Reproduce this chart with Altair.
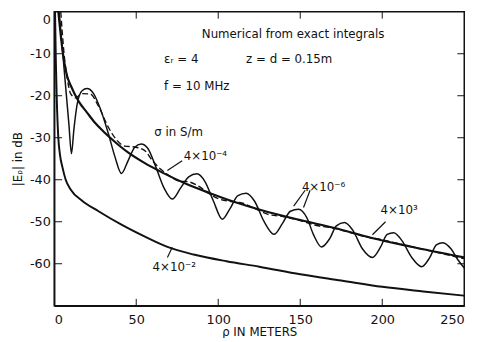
import altair as alt
import pandas as pd

# sigma = 4e-2 (lowest smooth curve)
rho_a = [0.5, 1.0, 1.5, 2.5, 3.5, 5, 7, 10, 17, 27, 41, 55, 69, 85, 105, 125, 150, 175, 200, 225, 250]
db_a = [0, -12, -20, -30, -34, -37, -40, -42.3, -45, -47.5, -50.7, -53.5, -56, -57.8, -59.4, -60.7, -62.5, -64, -65.5, -66.6, -67.6]

# sigma = 4e3 (upper smooth curve)
rho_b = [2.5, 5, 8, 10, 15, 20, 25, 30, 35, 45, 55, 66, 80, 95, 110, 126, 150, 171, 193, 217, 250]
db_b = [0, -9, -15.5, -17.5, -21.4, -24, -26.5, -28.5, -30.3, -33.5, -36, -38.3, -40.9, -43.2, -45.3, -47.2, -49.6, -51.5, -53.8, -55.9, -58.5]

# sigma = 4e-6 (strongly oscillating curve)
rho_c = [3, 5, 7, 9, 10.5, 12, 14, 17, 20, 24, 28, 33, 37, 41, 45, 49, 53, 57, 62, 67, 72, 77, 82, 87, 92, 97,
         102.5, 107, 112, 117, 122, 128, 134, 139, 144, 149, 154, 158, 163, 168, 172, 177, 182, 188, 194, 199,
         203, 207, 212, 218, 224, 229, 233, 237, 242, 246, 250]
db_c = [0, -9, -18, -27, -33.8, -28, -22, -18.8, -18.3, -19.5, -23, -29, -34.5, -38.5, -35.5, -32.3, -31.5, -32.5,
        -37, -42, -44.6, -42, -39.3, -38.6, -40.5, -45, -49.4, -47, -43.8, -43.2, -45, -50, -53, -50.5, -47.5, -47,
        -49, -53, -56, -54, -51, -50.2, -52, -56.5, -58.5, -56, -53, -52.6, -54.5, -58.5, -60.7, -58.5, -55.5, -55,
        -56.5, -59, -61]

# sigma = 4e-4 (dashed, weakly oscillating)
rho_d = [4, 6, 8, 10, 13, 17, 22, 27, 33, 38, 43, 49, 55, 60, 65, 70, 76, 82, 88, 94, 100, 108, 115, 122, 130,
         140, 150, 160, 170, 180, 190, 200, 215, 230, 250]
db_d = [0, -10, -16, -19.5, -20.5, -19.5, -19.6, -22.5, -27.5, -30.5, -32, -32.2, -33, -35.5, -37.5, -39, -40.3,
        -40.5, -41.5, -43.2, -44.5, -45.2, -45.6, -46.8, -48.2, -48.8, -49.7, -50.9, -51.5, -52.5, -53.6, -54.3,
        -55.7, -57, -58.8]

# annotations
ann_text = ["Numerical from exact integrals", "\u03b5\u1d63 = 4", "z = d = 0.15m", "f = 10 MHz",
            "\u03c3 in S/m", "4\u00d710\u207b\u2074", "4\u00d710\u207b\u2076", "4\u00d710\u00b3", "4\u00d710\u207b\u00b2"]
ann_rho = [90, 67, 117, 67, 61, 79, 151, 199, 60]
ann_db = [-5.2, -11.2, -11.2, -17.6, -28.6, -34.4, -41.7, -47.3, -60.9]

# arrows (start -> end)
arr_x1 = [78, 153, 156, 202, 69]
arr_y1 = [-35.5, -42.5, -42.5, -50, -58.5]
arr_x2 = [69, 146, 152, 194, 72]
arr_y2 = [-37.8, -46.3, -46.6, -53.1, -56.1]

x_ticks = [50, 100, 150, 200]
y_ticks = [-10, -20, -30, -40, -50, -60]

W, H = 417, 299
FONT = "DejaVu Sans"
INK = "#111111"

xs = alt.Scale(domain=[0, 250], nice=False, zero=False)
ys = alt.Scale(domain=[-70, 0], nice=False, zero=False)

xaxis = alt.Axis(values=[0, 50, 100, 150, 200, 250], tickSize=0, grid=False, labelFont=FONT, labelFontSize=13,
                 labelColor=INK, labelPadding=8, title="\u03c1 IN METERS", titleFont=FONT, titleFontSize=12,
                 titleFontWeight="normal", titleColor=INK, titlePadding=0, domainColor=INK, domainWidth=1.5)
yaxis = alt.Axis(values=[0, -10, -20, -30, -40, -50, -60], tickSize=0, grid=False, labelFont=FONT,
                 labelFontSize=13, labelColor=INK, labelPadding=4, labelFlush=True, labelFlushOffset=-2,
                 labelExpr="datum.value == 0 ? '0' : '-' + abs(datum.value)",
                 title="|E\u1d68| in dB", titleFont=FONT, titleFontSize=12, titleFontWeight="normal",
                 titleColor=INK, titlePadding=5, domainColor=INK, domainWidth=1.5)


def curve(rhos, dbs, width, dash=None):
    df = pd.DataFrame({"rho": rhos, "db": dbs})
    kw = dict(interpolate="monotone", color=INK, strokeWidth=width, clip=True)
    if dash:
        kw["strokeDash"] = dash
    return alt.Chart(df).mark_line(**kw).encode(
        x=alt.X("rho:Q", scale=xs, axis=xaxis),
        y=alt.Y("db:Q", scale=ys, axis=yaxis),
    )


la = curve(rho_a, db_a, 2.0)
lb = curve(rho_b, db_b, 2.2)
lc = curve(rho_c, db_c, 1.5)
ld = curve(rho_d, db_d, 1.4, dash=[6, 3])

xt = pd.DataFrame({"t": x_ticks})
yt = pd.DataFrame({"t": y_ticks})
tick_bottom = alt.Chart(xt).mark_rule(color=INK, strokeWidth=1).encode(
    x=alt.X("t:Q", scale=xs, axis=xaxis), y=alt.value(H), y2=alt.value(H - 7))
tick_top = alt.Chart(xt).mark_rule(color=INK, strokeWidth=1).encode(
    x=alt.X("t:Q", scale=xs, axis=xaxis), y=alt.value(0), y2=alt.value(7))
tick_left = alt.Chart(yt).mark_rule(color=INK, strokeWidth=1).encode(
    y=alt.Y("t:Q", scale=ys, axis=yaxis), x=alt.value(0), x2=alt.value(8))
tick_right = alt.Chart(yt).mark_rule(color=INK, strokeWidth=1).encode(
    y=alt.Y("t:Q", scale=ys, axis=yaxis), x=alt.value(W), x2=alt.value(W - 7))

ann = alt.Chart(pd.DataFrame({"label": ann_text, "rho": ann_rho, "db": ann_db})).mark_text(
    align="left", baseline="middle", font=FONT, fontSize=12, color=INK).encode(
    x=alt.X("rho:Q", scale=xs, axis=xaxis), y=alt.Y("db:Q", scale=ys, axis=yaxis), text="label:N")

arrows = alt.Chart(pd.DataFrame({"x1": arr_x1, "y1": arr_y1, "x2": arr_x2, "y2": arr_y2})).mark_rule(
    color=INK, strokeWidth=1.2).encode(
    x=alt.X("x1:Q", scale=xs, axis=xaxis), y=alt.Y("y1:Q", scale=ys, axis=yaxis), x2="x2:Q", y2="y2:Q")

chart = alt.layer(la, lb, lc, ld, tick_bottom, tick_top, tick_left, tick_right, ann, arrows).properties(
    width=W, height=H,
    padding={"left": 47, "top": 1, "right": 15, "bottom": 30},
    autosize=alt.AutoSizeParams(type="none"),
    background="white",
).configure_view(stroke=INK, strokeWidth=1.5)

chart.save("out.html", embed_options={"renderer": "svg", "actions": False})
